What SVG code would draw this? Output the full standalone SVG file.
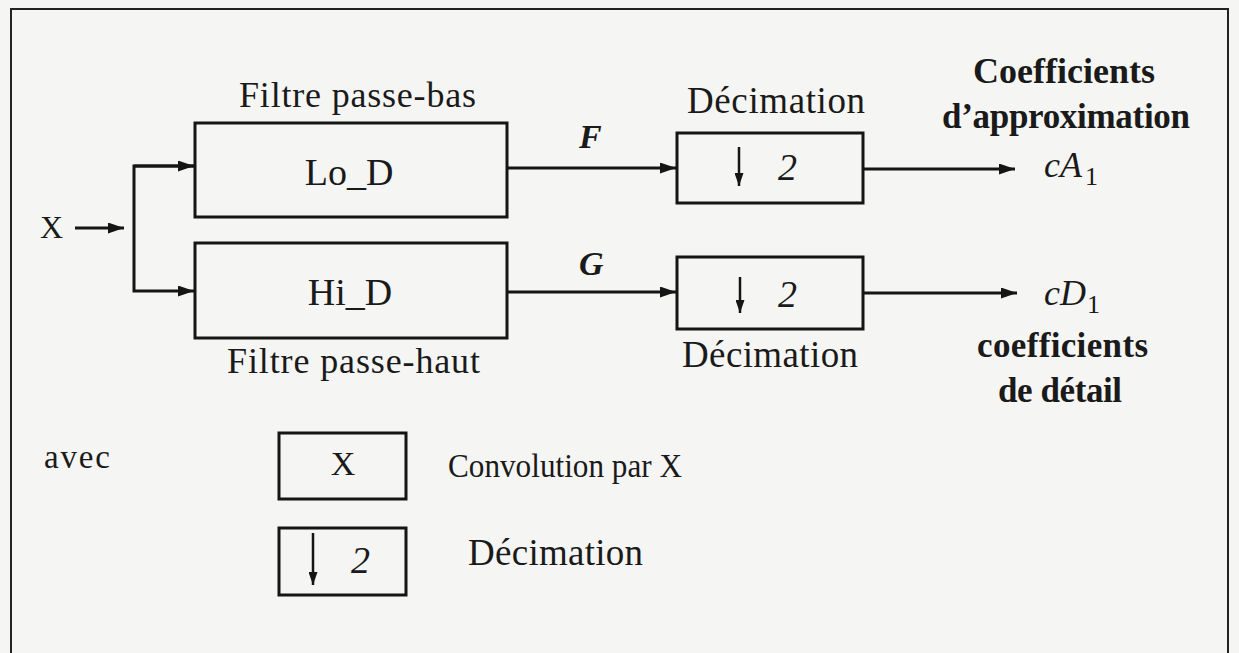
<svg xmlns="http://www.w3.org/2000/svg" width="1239" height="653" viewBox="0 0 1239 653">
  <defs>
    <marker id="ah" viewBox="0 0 16 11" refX="16" refY="5.5" markerWidth="16" markerHeight="11" markerUnits="userSpaceOnUse" orient="auto">
      <path d="M0,0 L16,5.5 L0,11 Z" fill="#151515"/>
    </marker>
    <marker id="ahs" viewBox="0 0 9 13" refX="4.5" refY="13" markerWidth="9" markerHeight="13" markerUnits="userSpaceOnUse" orient="0">
      <path d="M0,0 L4.5,13 L9,0 Z" fill="#151515"/>
    </marker>
  </defs>
  <style>
    .box { fill: none; stroke: #151515; stroke-width: 3; }
    .frame { fill: none; stroke: #222; stroke-width: 2; }
    .wire { fill: none; stroke: #151515; stroke-width: 3; }
    .thin { fill: none; stroke: #151515; stroke-width: 2.5; }
    .t { font-family: "Liberation Serif", "DejaVu Serif", serif; fill: #1a1a1a; }
    .lbl { font-size: 36px; }
    .b { font-weight: bold; }
    .it { font-style: italic; }
    .m { font-style: italic; font-weight: bold; font-size: 34px; }
  </style>
  <rect x="0" y="0" width="1239" height="653" fill="#f5f5f3"/>
  <rect class="frame" x="11" y="9" width="1217" height="660"/>

  <g id="connectors">
    <line class="wire" x1="75" y1="228" x2="124" y2="228" marker-end="url(#ah)"/>
    <polyline class="wire" points="194,166 134,166 134,291 194,291" marker-end="url(#ah)"/>
    <line class="wire" x1="134" y1="166" x2="194" y2="166" marker-end="url(#ah)"/>
    <line class="wire" x1="507" y1="168" x2="676" y2="168" marker-end="url(#ah)"/>
    <line class="wire" x1="507" y1="292" x2="676" y2="292" marker-end="url(#ah)"/>
    <line class="wire" x1="863" y1="169" x2="1015" y2="169" marker-end="url(#ah)"/>
    <line class="wire" x1="863" y1="293" x2="1017" y2="293" marker-end="url(#ah)"/>
  </g>

  <g id="input">
    <text class="t" x="40" y="238" font-size="32" textLength="23">X</text>
  </g>

  <g id="lo_d">
    <text class="t lbl" x="239" y="107" textLength="237" lengthAdjust="spacing">Filtre passe-bas</text>
    <rect class="box" x="195" y="123" width="312" height="94"/>
    <text class="t" x="349" y="185" font-size="38" text-anchor="middle">Lo_D</text>
  </g>

  <g id="hi_d">
    <rect class="box" x="195" y="243" width="312" height="95"/>
    <text class="t" x="350" y="305" font-size="38" text-anchor="middle">Hi_D</text>
    <text class="t lbl" x="227" y="373" textLength="253" lengthAdjust="spacing">Filtre passe-haut</text>
  </g>

  <g id="label_f">
    <text class="t m" x="579" y="148">F</text>
  </g>
  <g id="label_g">
    <text class="t m" x="579" y="275">G</text>
  </g>

  <g id="dec_top">
    <text class="t" x="687" y="113" font-size="37" textLength="178" lengthAdjust="spacing">Décimation</text>
    <rect class="box" x="677" y="133" width="186" height="70"/>
    <line class="thin" x1="739" y1="147" x2="739" y2="186" marker-end="url(#ahs)"/>
    <text class="t it" x="778" y="180" font-size="38">2</text>
  </g>

  <g id="dec_bot">
    <rect class="box" x="677" y="257" width="186" height="72"/>
    <line class="thin" x1="740" y1="277" x2="740" y2="313" marker-end="url(#ahs)"/>
    <text class="t it" x="778" y="307" font-size="38">2</text>
    <text class="t" x="682" y="367" font-size="37" textLength="176" lengthAdjust="spacing">Décimation</text>
  </g>

  <g id="out_ca">
    <text class="t b" x="973" y="83" font-size="36" textLength="182" lengthAdjust="spacing">Coefficients</text>
    <text class="t b" x="942" y="128" font-size="35" textLength="248" lengthAdjust="spacing">d’approximation</text>
    <text class="t it" x="1044" y="177" font-size="36">cA</text>
    <text class="t" x="1085" y="185" font-size="26">1</text>
  </g>

  <g id="out_cd">
    <text class="t it" x="1044" y="305" font-size="36">cD</text>
    <text class="t" x="1087" y="313" font-size="26">1</text>
    <text class="t b" x="977" y="357" font-size="35" textLength="171" lengthAdjust="spacing">coefficients</text>
    <text class="t b" x="998" y="402" font-size="35" textLength="124" lengthAdjust="spacing">de détail</text>
  </g>

  <g id="legend">
    <text class="t" x="44" y="468" font-size="33" textLength="66" lengthAdjust="spacing">avec</text>
    <rect class="box" x="279" y="433" width="127" height="66"/>
    <text class="t" x="343" y="475" font-size="34" text-anchor="middle">X</text>
    <text class="t" x="448" y="477" font-size="33" textLength="234" lengthAdjust="spacingAndGlyphs">Convolution par X</text>
    <rect class="box" x="279" y="528" width="127" height="67"/>
    <line class="thin" x1="313" y1="533" x2="313" y2="585" marker-end="url(#ahs)"/>
    <text class="t it" x="351" y="573" font-size="38">2</text>
    <text class="t" x="468" y="565" font-size="37" textLength="175" lengthAdjust="spacing">Décimation</text>
  </g>
</svg>
